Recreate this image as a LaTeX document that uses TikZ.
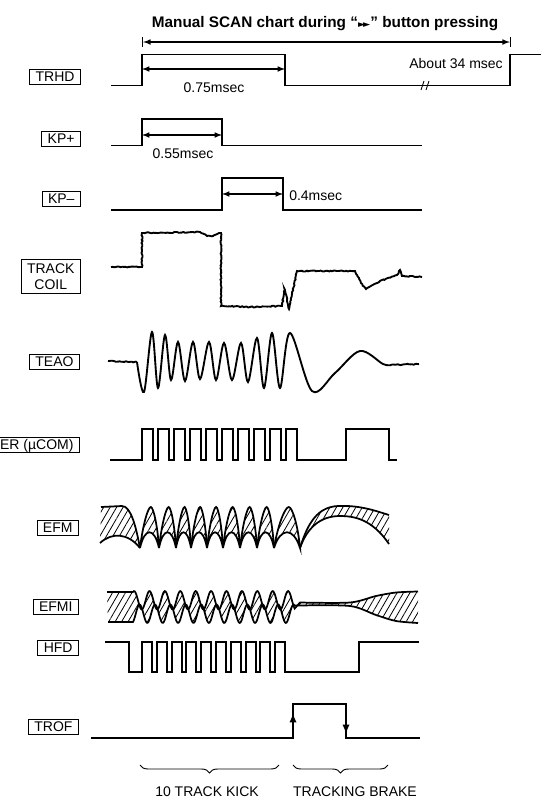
\documentclass[tikz,border=0pt]{standalone}
\usepackage{fontspec}
\setmainfont{Liberation Sans}
\newfontfamily\symfont{DejaVu Sans}
\usetikzlibrary{decorations.pathreplacing, decorations.pathmorphing, patterns.meta}

\tikzset{
  sig/.style={line width=1.4pt},
  thinsig/.style={line width=1.3pt},
  dim/.style={<->, line width=0.9pt},
  lbl/.style={draw, line width=0.7pt, anchor=east, inner xsep=4.5pt, inner ysep=1.6pt,
    font=\fontsize{10.5}{12}\selectfont, text height=7.6pt, text depth=0.4pt},
  txt/.style={font=\fontsize{10.5}{12}\selectfont, inner sep=0pt},
  hatch/.style={pattern={Lines[angle=60, distance=4.2pt, line width=0.6pt]}},
  noisy/.style={decorate, decoration={random steps, segment length=1.2pt, amplitude=0.4pt}},
}

\begin{document}
\pgfmathsetseed{7}
\begin{tikzpicture}[x=0.75pt, y=-0.75pt, >=latex]
    \useasboundingbox (0,0) rectangle (541,810);

    % 1. Judul dan panah 34 msec
    \node[txt, font=\bfseries\fontsize{11.5}{13}\selectfont] (title) at (325,24)
        {Manual SCAN chart during “{\symfont\fontsize{7}{8}\selectfont ►\kern-1.5pt►}” button pressing};
    \coordinate (scanL) at (142,42);
    \coordinate (scanR) at (511,42);
    \draw[|<->|, line width=0.9pt] (scanL) -- (scanR);

    % 2. TRHD
    \node[lbl] (trhd) at (81,77) {TRHD};
    \draw[sig] (111,85.5) -- (142,85.5) -- (142,54.5) -- (285,54.5) -- (285,85.5)
        -- (510,85.5) -- (510,54.5) -- (541,54.5);
    \draw[line width=0.7pt] (421,90) -- (424,81) (426,90) -- (429,81);
    \coordinate (trhdA) at (142,69);
    \coordinate (trhdB) at (285,69);
    \draw[dim] (trhdA) -- (trhdB);
    \node[txt] (t075) at (214,88) {0.75msec};
    \node[txt, anchor=east] (t34) at (503,63) {About 34 msec};

    % 3. KP+
    \node[lbl] (kpp) at (81,139) {KP+};
    \draw[sig] (111,145.5) -- (142,145.5) -- (142,119) -- (222,119) -- (222,145.5) -- (422,145.5);
    \coordinate (kppA) at (142,135);
    \coordinate (kppB) at (222,135);
    \draw[dim] (kppA) -- (kppB);
    \node[txt] (t055) at (183,154) {0.55msec};

    % 4. KP-
    \node[lbl] (kpm) at (81,199) {KP–};
    \draw[sig] (111,210) -- (222,210) -- (222,178) -- (283,178) -- (283,210) -- (422,210);
    \coordinate (kpmA) at (222,194);
    \coordinate (kpmB) at (283,194);
    \draw[dim] (kpmA) -- (kpmB);
    \node[txt, anchor=west] (t04) at (289,196) {0.4msec};

    % 5. TRACK COIL
    \node[lbl, align=center, text height=19.6pt, inner ysep=2.5pt,
        font=\fontsize{10.5}{12}\selectfont] (coil) at (81,276.5) {TRACK\\COIL};
    \draw[sig, noisy] (111,267) -- (142,267) -- (142,233) -- (200,232) -- (207,236) -- (213,236)
        -- (219,233) -- (221,233) -- (221,306) -- (250,307) -- (282,306) -- (284.5,289)
        -- (287,300) -- (289,309) -- (297,271) -- (355,271) -- (361,283) -- (366,289)
        -- (380,281) -- (397,275) -- (400,270) -- (402,276) -- (422,277);

    % 6. TEAO
    \node[lbl] (teao) at (80,362) {TEAO};
    \draw[sig, noisy] (108,361) -- (137,362);
    \draw[sig] plot[smooth, tension=0.55] coordinates {(137,362) (144,392) (152,332) (158,388)
        (165,335) (171,380) (178,342) (185,381) (193,342) (200,379) (209,342) (216,380)
        (224,343) (232,380) (241,343) (248,382) (257,338) (264,388) (272,333) (280,388)
        (290,333) (312,391) (335,373) (360,351) (383,364) (391,365)};
    \draw[sig, noisy] (391,365) -- (419,364);

    % 7. ER (uCOM)
    \node[lbl] (ucom) at (80,444.5) {ER (µCOM)};
    \draw[sig] (110,460) foreach \k in {0,...,9} {
        -- ({142+16*\k},460) -- ({142+16*\k},429) -- ({153+16*\k},429) -- ({153+16*\k},460)}
        -- (346,460) -- (346,429) -- (389,429) -- (389,460) -- (397,460);

    % 8. EFM
    \node[lbl] (efm) at (79,528) {EFM};
    \fill[hatch] (101,507) -- (122,506) .. controls (131,506) and (136,527) .. (140,548)
        .. controls (128,533) and (112,532) .. (100,543) -- cycle;
    \draw[thinsig] (101,507) -- (122,506) .. controls (131,506) and (136,527) .. (140,548);
    \draw[thinsig] (100,543) .. controls (112,532) and (128,533) .. (140,548);
    \foreach \a/\b in {140/159, 159/176, 176/191, 191/207, 207/223, 223/240, 240/257, 257/274, 274/300} {
        \draw[thinsig, hatch] (\a,548) .. controls ({\a+0.15*(\b-\a)},525) and ({\a+0.42*(\b-\a)},507)
            .. ({\a+0.57*(\b-\a)},507) .. controls ({\a+0.7*(\b-\a)},507) and ({\b-0.08*(\b-\a)},525)
            .. (\b,548) .. controls ({\b-0.25*(\b-\a)},527) and ({\a+0.25*(\b-\a)},527) .. (\a,548) -- cycle;
    }
    \fill[hatch] (300,548) .. controls (308,522) and (318,507) .. (338,506)
        .. controls (360,505) and (376,511) .. (389,515) -- (389,544)
        .. controls (372,519) and (354,516) .. (340,516) .. controls (320,516) and (307,528) .. (300,548) -- cycle;
    \draw[thinsig] (300,548) .. controls (308,522) and (318,507) .. (338,506)
        .. controls (360,505) and (376,511) .. (389,515);
    \draw[thinsig] (300,548) .. controls (307,528) and (320,516) .. (340,516)
        .. controls (354,516) and (372,519) .. (389,544);

    % 9. EFMI (pita terpilin)
    \node[lbl] (efmi) at (79,607) {EFMI};
    \fill[hatch] (107,592) -- (133,592)
        -- plot[domain=133:294.7, samples=200] (\x,{607-15*(0.45+0.55*sin(90+23.38*(\x-133)))+4*cos(90+23.38*(\x-133))})
        -- plot[smooth] coordinates {(300,602.5) (350,602.5) (376,596) (396,592.5) (418,591.5)}
        -- (418,623) -- plot[smooth] coordinates {(418,623) (396,621) (376,615) (350,606) (300,605.5) (294.7,608.5)}
        -- plot[domain=294.7:133, samples=200] (\x,{607+15*(0.45+0.55*sin(90+23.38*(\x-133)))+4*cos(90+23.38*(\x-133))})
        -- (108,622) -- cycle;
    \draw[thinsig] (107,592) -- (133,592)
        -- plot[domain=133:294.7, samples=200] (\x,{607-15*(0.45+0.55*sin(90+23.38*(\x-133)))+4*cos(90+23.38*(\x-133))})
        -- plot[smooth] coordinates {(300,602.5) (350,602.5) (376,596) (396,592.5) (418,591.5)};
    \draw[thinsig] (108,622) -- (133,622)
        -- plot[domain=133:294.7, samples=200] (\x,{607+15*(0.45+0.55*sin(90+23.38*(\x-133)))+4*cos(90+23.38*(\x-133))})
        -- plot[smooth] coordinates {(300,605.5) (350,606) (376,615) (396,621) (418,623)};

    % 10. HFD
    \node[lbl] (hfd) at (79,648) {HFD};
    \draw[sig] (105,642) -- (129,642) -- (129,672) foreach \k in {0,...,9} {
        -- ({142+14.8*\k},672) -- ({142+14.8*\k},642) -- ({152+14.8*\k},642) -- ({152+14.8*\k},672)}
        -- (359,672) -- (359,642) -- (419,642);

    % 11. TROF, panah naik/turun
    \node[lbl] (trof) at (79,727) {TROF};
    \draw[sig] (91,738) -- (293,738) -- (293,704) -- (346,704) -- (346,738) -- (420,738);
    \coordinate (upA) at (293,738);
    \coordinate (upB) at (293,713);
    \coordinate (dnA) at (346,704);
    \coordinate (dnB) at (346,734);
    \draw[sig, ->] (upA) -- (upB);
    \draw[sig, ->] (dnA) -- (dnB);

    % 12. Kurung kurawal dan keterangan
    \coordinate (kickL) at (140,765);
    \coordinate (kickR) at (279,765);
    \coordinate (brakeL) at (293,765);
    \coordinate (brakeR) at (388,765);
    \draw[decorate, decoration={brace, mirror, amplitude=6pt}, line width=0.7pt] (kickL) -- (kickR);
    \draw[decorate, decoration={brace, mirror, amplitude=6pt}, line width=0.7pt] (brakeL) -- (brakeR);
    \node[txt] (kick) at (207,792) {10 TRACK KICK};
    \node[txt] (brake) at (355,792) {TRACKING BRAKE};
\end{tikzpicture}
\end{document}
